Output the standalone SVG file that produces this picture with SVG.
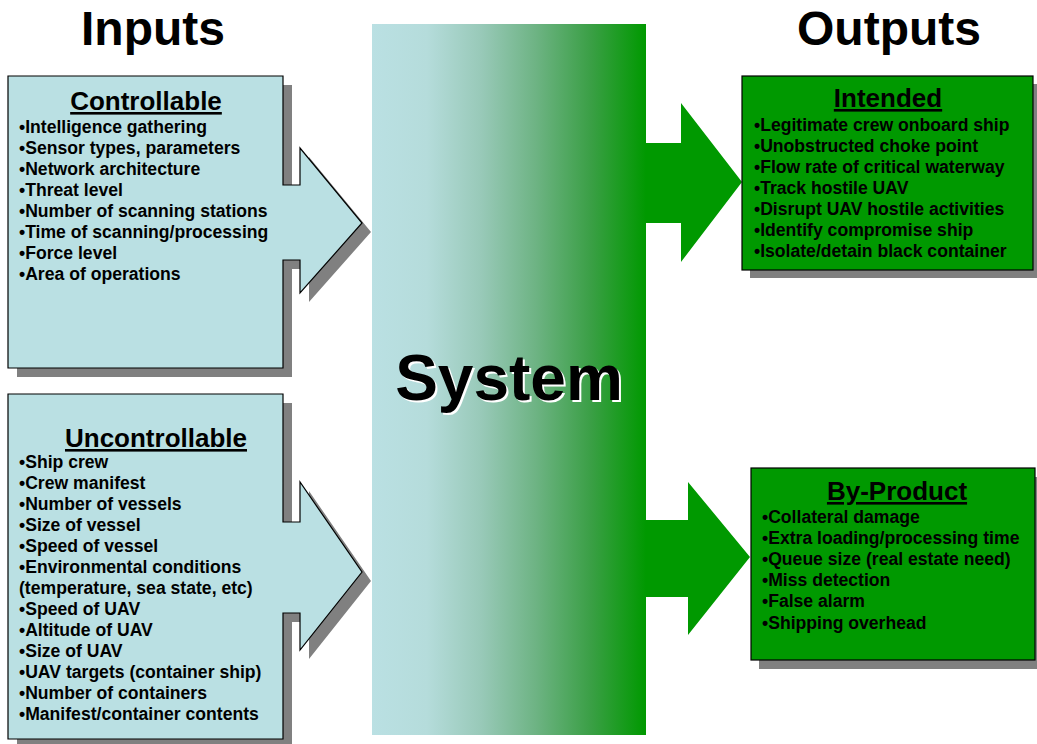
<svg xmlns="http://www.w3.org/2000/svg" width="1037" height="744" viewBox="0 0 1037 744">
<defs>
<linearGradient id="sysgrad" x1="0" y1="0" x2="1" y2="0">
<stop offset="0" stop-color="#bae0e3"/>
<stop offset="0.2" stop-color="#b5dcdb"/>
<stop offset="0.4" stop-color="#98c9b8"/>
<stop offset="0.6" stop-color="#6db383"/>
<stop offset="0.8" stop-color="#3a9f45"/>
<stop offset="1" stop-color="#009900"/>
</linearGradient>
<style>
.head{font-family:"Liberation Sans",Arial,sans-serif;font-weight:bold;font-size:48px;fill:#000;text-anchor:middle}
.ttl{font-family:"Liberation Sans",Arial,sans-serif;font-weight:bold;font-size:26px;fill:#000;text-anchor:middle;text-decoration:underline}
.itm{font-family:"Liberation Sans",Arial,sans-serif;font-weight:bold;font-size:17.6px;fill:#000}
.blue{fill:#bae0e3;stroke:#000;stroke-width:1.2}
.green{fill:#009900;stroke:#000;stroke-width:1.2}
.shadow{fill:#808080}
.garrow{fill:#009900}
</style>
</defs>

<text class="head" x="153" y="45">Inputs</text>
<text class="head" x="889" y="45">Outputs</text>

<g id="system">
<rect x="372" y="24" width="274" height="711" fill="url(#sysgrad)"/>
<text x="511" y="402" font-family="Liberation Sans,Arial,sans-serif" font-weight="bold" font-size="64" fill="#fff" text-anchor="middle">System</text>
<text x="509" y="400" font-family="Liberation Sans,Arial,sans-serif" font-weight="bold" font-size="64" fill="#000" text-anchor="middle">System</text>
</g>

<g id="connectors">
<path class="garrow" d="M646,143 H681 V103 L742,182 L681,262 V223 H646 Z"/>
<path class="garrow" d="M646,520 H688 V482 L750,557 L688,635 V597 H646 Z"/>
</g>

<g id="controllable">
<path class="shadow" transform="translate(9,9)" d="M8,76 H283 V185 H300 V148 L362,223 L300,293 V260 H283 V368 H8 Z"/>
<path class="blue" d="M8,76 H283 V185 H300 V148 L362,223 L300,293 V260 H283 V368 H8 Z"/>
<text class="ttl" x="146" y="110">Controllable</text>
<text class="itm" x="19" y="133">•Intelligence gathering</text>
<text class="itm" x="19" y="154">•Sensor types, parameters</text>
<text class="itm" x="19" y="175">•Network architecture</text>
<text class="itm" x="19" y="196">•Threat level</text>
<text class="itm" x="19" y="217">•Number of scanning stations</text>
<text class="itm" x="19" y="238">•Time of scanning/processing</text>
<text class="itm" x="19" y="259">•Force level</text>
<text class="itm" x="19" y="280">•Area of operations</text>
</g>

<g id="uncontrollable">
<path class="shadow" transform="translate(9,9)" d="M8,394 H283 V522 H300 V482 L362,572 L300,650 V613 H283 V739 H8 Z"/>
<path class="blue" d="M8,394 H283 V522 H300 V482 L362,572 L300,650 V613 H283 V739 H8 Z"/>
<text class="ttl" x="156" y="447">Uncontrollable</text>
<text class="itm" x="19" y="468">•Ship crew</text>
<text class="itm" x="19" y="489">•Crew manifest</text>
<text class="itm" x="19" y="510">•Number of vessels</text>
<text class="itm" x="19" y="531">•Size of vessel</text>
<text class="itm" x="19" y="552">•Speed of vessel</text>
<text class="itm" x="19" y="573">•Environmental conditions</text>
<text class="itm" x="19" y="594">(temperature, sea state, etc)</text>
<text class="itm" x="19" y="615">•Speed of UAV</text>
<text class="itm" x="19" y="636">•Altitude of UAV</text>
<text class="itm" x="19" y="657">•Size of UAV</text>
<text class="itm" x="19" y="678">•UAV targets (container ship)</text>
<text class="itm" x="19" y="699">•Number of containers</text>
<text class="itm" x="19" y="720">•Manifest/container contents</text>
</g>

<g id="intended">
<rect class="shadow" x="750" y="84" width="291" height="194"/>
<rect class="green" x="742" y="76" width="291" height="194"/>
<text class="ttl" x="888" y="107">Intended</text>
<text class="itm" x="754" y="131">•Legitimate crew onboard ship</text>
<text class="itm" x="754" y="152">•Unobstructed choke point</text>
<text class="itm" x="754" y="173">•Flow rate of critical waterway</text>
<text class="itm" x="754" y="194">•Track hostile UAV</text>
<text class="itm" x="754" y="215">•Disrupt UAV hostile activities</text>
<text class="itm" x="754" y="236">•Identify compromise ship</text>
<text class="itm" x="754" y="257">•Isolate/detain black container</text>
</g>

<g id="byproduct">
<rect class="shadow" x="759" y="477" width="285" height="192"/>
<rect class="green" x="751" y="468" width="284" height="192"/>
<text class="ttl" x="897" y="500">By-Product</text>
<text class="itm" x="762" y="523">•Collateral damage</text>
<text class="itm" x="762" y="544">•Extra loading/processing time</text>
<text class="itm" x="762" y="565">•Queue size (real estate need)</text>
<text class="itm" x="762" y="586">•Miss detection</text>
<text class="itm" x="762" y="607">•False alarm</text>
<text class="itm" x="762" y="629">•Shipping overhead</text>
</g>
</svg>
